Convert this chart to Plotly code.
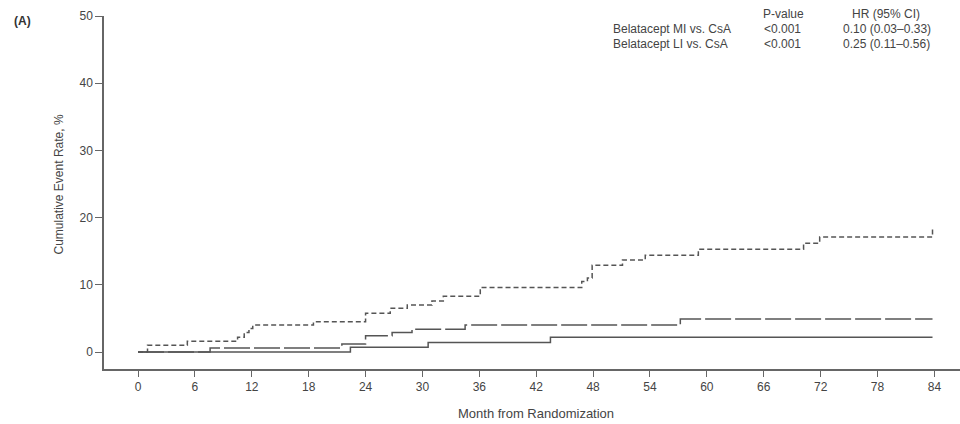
import plotly.graph_objects as go

# Data (month, cumulative event rate %)
csa_month = [0, 1.0, 5.2, 10.5, 11.2, 11.7, 12.1, 18.5, 24.0, 26.6, 28.4, 31.0, 32.2, 36.1,
             46.8, 47.4, 47.9, 51.1, 53.5, 59.1, 70.2, 71.9, 83.8]
csa_rate = [0, 1.0, 1.6, 2.2, 2.9, 3.5, 4.0, 4.5, 5.75, 6.5, 7.0, 7.6, 8.3, 9.6,
            10.5, 11.0, 12.9, 13.7, 14.4, 15.3, 16.2, 17.1, 18.5]

li_month = [0, 7.6, 21.5, 24.0, 26.8, 28.9, 34.5, 57.2, 83.8]
li_rate = [0, 0.6, 1.2, 2.4, 2.9, 3.4, 4.0, 4.9, 4.9]

mi_month = [0, 22.4, 30.6, 43.5, 83.8]
mi_rate = [0, 0.7, 1.4, 2.2, 2.2]

x_ticks = list(range(0, 85, 6))
y_ticks = [0, 10, 20, 30, 40, 50]

table_rows = ["Belatacept MI vs. CsA", "Belatacept LI vs. CsA"]
p_values = ["<0.001", "<0.001"]
hr_ci = ["0.10 (0.03\u20130.33)", "0.25 (0.11\u20130.56)"]

FONT = "Liberation Sans, Arial, sans-serif"
TXT = "#444444"
LINE = "#555555"

fig = go.Figure()
fig.add_trace(go.Scatter(x=csa_month, y=csa_rate, mode="lines", line_shape="hv",
                         line=dict(color=LINE, width=1.5, dash="5px,3px"), name="CsA"))
fig.add_trace(go.Scatter(x=li_month, y=li_rate, mode="lines", line_shape="hv",
                         line=dict(color=LINE, width=1.5, dash="26px,4px"), name="Belatacept LI"))
fig.add_trace(go.Scatter(x=mi_month, y=mi_rate, mode="lines", line_shape="hv",
                         line=dict(color=LINE, width=1.5), name="Belatacept MI"))

fig.update_layout(
    width=960, height=424,
    margin=dict(l=104, r=0, t=16, b=55),
    paper_bgcolor="white", plot_bgcolor="white",
    showlegend=False,
    font=dict(family=FONT, size=12, color=TXT),
    xaxis=dict(range=[-3.59, 86.7], tickvals=x_ticks, showgrid=False, zeroline=False,
               showline=True, linecolor="#666666", linewidth=1.5,
               ticks="outside", ticklen=6, tickcolor="#666666", tickwidth=1.2,
               tickfont=dict(size=12, color=TXT)),
    yaxis=dict(range=[-2.53, 50], tickvals=y_ticks, showgrid=False, zeroline=False,
               showline=True, linecolor="#666666", linewidth=1.5,
               ticks="outside", ticklen=7, tickcolor="#666666", tickwidth=1.2,
               tickfont=dict(size=12, color=TXT)),
)


def px(xp):
    return (xp - 104) / 856


def py(yp):
    return (369 - yp) / 353


ann = []
ann.append(dict(text="<b>(A)</b>", xref="paper", yref="paper", x=px(12), y=py(21),
                xanchor="left", yanchor="middle", showarrow=False,
                font=dict(size=12, color="#333333")))
ann.append(dict(text="Month from Randomization", xref="paper", yref="paper",
                x=px(535.5), y=py(414), xanchor="center", yanchor="middle",
                showarrow=False, font=dict(size=13, color=TXT)))
ann.append(dict(text="Cumulative Event Rate, %", xref="paper", yref="paper",
                x=px(58), y=py(184.5), xanchor="center", yanchor="middle",
                textangle=-90, showarrow=False, font=dict(size=12, color=TXT)))

ann.append(dict(text="P-value", xref="paper", yref="paper", x=px(783), y=py(13.5),
                xanchor="center", yanchor="middle", showarrow=False, font=dict(size=12, color=TXT)))
ann.append(dict(text="HR (95% CI)", xref="paper", yref="paper", x=px(886), y=py(13.5),
                xanchor="center", yanchor="middle", showarrow=False, font=dict(size=12, color=TXT)))
row_y = [28.5, 43.5]
for i in range(len(table_rows)):
    ann.append(dict(text=table_rows[i], xref="paper", yref="paper", x=px(611), y=py(row_y[i]),
                    xanchor="left", yanchor="middle", showarrow=False, font=dict(size=12, color=TXT)))
    ann.append(dict(text=p_values[i], xref="paper", yref="paper", x=px(762), y=py(row_y[i]),
                    xanchor="left", yanchor="middle", showarrow=False, font=dict(size=12, color=TXT)))
    ann.append(dict(text=hr_ci[i], xref="paper", yref="paper", x=px(841), y=py(row_y[i]),
                    xanchor="left", yanchor="middle", showarrow=False, font=dict(size=12, color=TXT)))

fig.update_layout(annotations=ann)
fig.write_html("out.html")
